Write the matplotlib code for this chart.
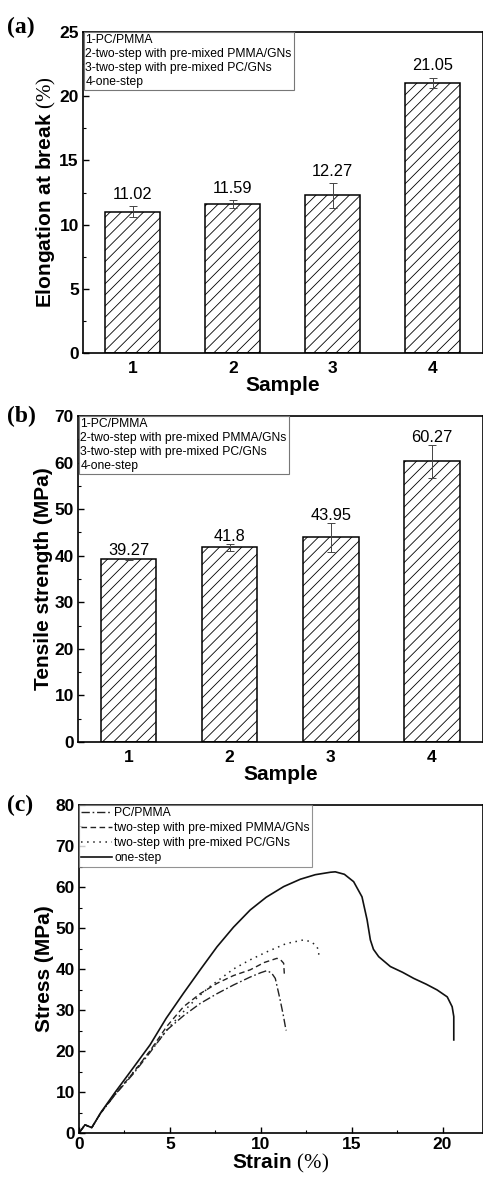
import matplotlib
matplotlib.use('Agg')
import matplotlib.pyplot as plt
from matplotlib.ticker import MultipleLocator

plt.rcParams['font.family'] = ['Liberation Sans', 'DejaVu Sans']
plt.rcParams['mathtext.fontset'] = 'custom'
plt.rcParams['mathtext.rm'] = 'Liberation Serif'
plt.rcParams['hatch.linewidth'] = 0.6

# bar data
samples = [1, 2, 3, 4]
elongation = [11.02, 11.59, 12.27, 21.05]
elongation_err = [0.4, 0.3, 0.95, 0.4]
tensile = [39.27, 41.8, 43.95, 60.27]
tensile_err = [0.25, 0.7, 3.1, 3.5]
notes = ['1-PC/PMMA', '2-two-step with pre-mixed PMMA/GNs',
         '3-two-step with pre-mixed PC/GNs', '4-one-step']

# stress-strain curves
pc_pmma_strain = [0, 0.33, 0.7, 1.2, 2.0, 3.0, 3.9, 4.83, 5.75, 6.67, 7.6, 8.5, 9.4, 10.0, 10.34, 10.6, 10.8, 11.07, 11.25, 11.35, 11.4]
pc_pmma_stress = [0, 2.0, 1.3, 4.9, 9.4, 14.5, 19.6, 25.1, 28.6, 31.6, 34.0, 36.1, 38.0, 39.1, 39.6, 39.0, 37.7, 32.4, 28.5, 26.0, 25.0]
pmma_gn_strain = [0, 0.33, 0.7, 1.2, 2.0, 3.0, 3.9, 4.83, 5.75, 6.67, 7.59, 8.5, 9.42, 10.2, 10.89, 11.1, 11.26, 11.3]
pmma_gn_stress = [0, 2.0, 1.3, 4.9, 9.5, 14.8, 20.0, 26.0, 30.8, 34.0, 36.5, 38.4, 39.8, 41.6, 42.6, 42.2, 41.4, 38.6]
pc_gn_strain = [0, 0.33, 0.7, 1.2, 2.0, 3.0, 4.28, 5.0, 5.75, 6.5, 7.2, 8.5, 9.4, 10.34, 11.4, 12.36, 12.8, 13.1, 13.19, 13.19]
pc_gn_stress = [0, 2.0, 1.3, 4.9, 9.5, 14.9, 22.0, 26.0, 29.6, 33.0, 35.7, 40.0, 42.2, 44.2, 46.2, 47.1, 46.6, 45.4, 44.2, 42.4]
one_step_strain = [0, 0.33, 0.7, 1.2, 2.0, 3.0, 3.91, 4.8, 5.75, 6.7, 7.59, 8.5, 9.42, 10.3, 11.26, 12.18, 13.0, 13.83, 14.1, 14.6, 15.11, 15.57, 15.85, 16.03, 16.2, 16.49, 17.13, 17.8, 18.42, 19.1, 19.7, 20.26, 20.53, 20.62, 20.62]
one_step_stress = [0, 2.0, 1.3, 5.0, 10.0, 16.0, 21.5, 28.0, 34.1, 40.0, 45.4, 50.2, 54.4, 57.5, 60.1, 61.9, 63.0, 63.6, 63.7, 63.1, 61.3, 57.6, 52.0, 47.1, 44.8, 43.0, 40.6, 39.2, 37.7, 36.3, 34.9, 33.2, 30.8, 28.4, 22.7]

fig = plt.figure(figsize=(4.83, 11.8), dpi=100)
ax_a = fig.add_axes([83/483, 1 - 353/1180, 399.5/483, 321/1180])
ax_b = fig.add_axes([78/483, 1 - 742/1180, 404.5/483, 326/1180])
ax_c = fig.add_axes([79/483, 1 - 1133/1180, 403.5/483, 328/1180])

LABEL_FS = 15
TICK_FS = 12.5
NOTE_FS = 8.7


def style_axes(ax):
    for sp in ax.spines.values():
        sp.set_linewidth(1.2)
    ax.tick_params(direction='in', width=1, length=4.5, labelsize=TICK_FS, pad=3)
    ax.tick_params(which='minor', direction='in', width=0.8, length=2.5)
    for lab in ax.get_xticklabels() + ax.get_yticklabels():
        lab.set_fontweight('bold')


def bar_panel(ax, vals, errs, ylim, major, minor, ylabel, txt_off):
    ax.bar(samples, vals, width=0.55, color='white', edgecolor='black',
           linewidth=1.1, hatch='///', zorder=2)
    ax.errorbar(samples, vals, yerr=errs, fmt='none', ecolor='#444444',
                elinewidth=0.7, capsize=3, capthick=0.7, zorder=3)
    for x, v, e in zip(samples, vals, errs):
        ax.annotate(f'{v:g}', (x, v + e), xytext=(0, txt_off),
                    textcoords='offset points', ha='center', va='baseline',
                    fontsize=11.8)
    ax.set_xlim(0.5, 4.5)
    ax.set_ylim(*ylim)
    ax.set_xticks(samples)
    ax.yaxis.set_major_locator(MultipleLocator(major))
    ax.yaxis.set_minor_locator(MultipleLocator(minor))
    style_axes(ax)
    ax.tick_params(axis='x', length=0, pad=6)
    ax.set_xlabel('Sample', fontsize=LABEL_FS, fontweight='bold', labelpad=0)
    ax.set_ylabel(ylabel, fontsize=LABEL_FS, fontweight='bold', labelpad=1)
    ax.text(0.006, 0.993, '\n'.join(notes), transform=ax.transAxes,
            ha='left', va='top', fontsize=NOTE_FS, linespacing=1.22,
            bbox=dict(boxstyle='square,pad=0.15', fc='white', ec='#777777', lw=0.8),
            zorder=5)


bar_panel(ax_a, elongation, elongation_err, (0, 25), 5, 2.5,
          r'Elongation at break $\mathrm{(\%)}$', 5.5)
bar_panel(ax_b, tensile, tensile_err, (0, 70), 10, 5,
          'Tensile strength (MPa)', 2.2)

# (c) stress-strain
ax_c.plot(pc_pmma_strain, pc_pmma_stress, color='#222222', lw=1.0,
          linestyle=(0, (6, 2, 1.2, 2)), label='PC/PMMA')
ax_c.plot(pmma_gn_strain, pmma_gn_stress, color='#222222', lw=1.0,
          linestyle=(0, (4, 2.5)), label='two-step with pre-mixed PMMA/GNs')
ax_c.plot(pc_gn_strain, pc_gn_stress, color='#222222', lw=1.1,
          linestyle=(0, (1, 3)), label='two-step with pre-mixed PC/GNs')
ax_c.plot(one_step_strain, one_step_stress, color='#111111', lw=1.2,
          label='one-step')
ax_c.set_xlim(0, 22.2)
ax_c.set_ylim(0, 80)
ax_c.xaxis.set_major_locator(MultipleLocator(5))
ax_c.xaxis.set_minor_locator(MultipleLocator(2.5))
ax_c.yaxis.set_major_locator(MultipleLocator(10))
ax_c.yaxis.set_minor_locator(MultipleLocator(5))
style_axes(ax_c)
ax_c.set_xlabel(r'Strain $\mathrm{(\%)}$', fontsize=LABEL_FS, fontweight='bold', labelpad=0)
ax_c.set_ylabel('Stress (MPa)', fontsize=LABEL_FS, fontweight='bold', labelpad=1)
leg = ax_c.legend(loc='upper left', fontsize=NOTE_FS, frameon=True, fancybox=False,
                  edgecolor='#777777', borderaxespad=0.0, borderpad=0.2,
                  handlelength=2.5, handletextpad=0.2, labelspacing=0.25)
leg.get_frame().set_linewidth(0.8)

for lab, y in [('(a)', 33), ('(b)', 422), ('(c)', 811)]:
    fig.text(7 / 483, 1 - y / 1180, lab, fontsize=17, fontweight='bold',
             family=['Liberation Serif', 'DejaVu Serif'], ha='left', va='baseline')

fig.savefig('out.png', dpi=100)
